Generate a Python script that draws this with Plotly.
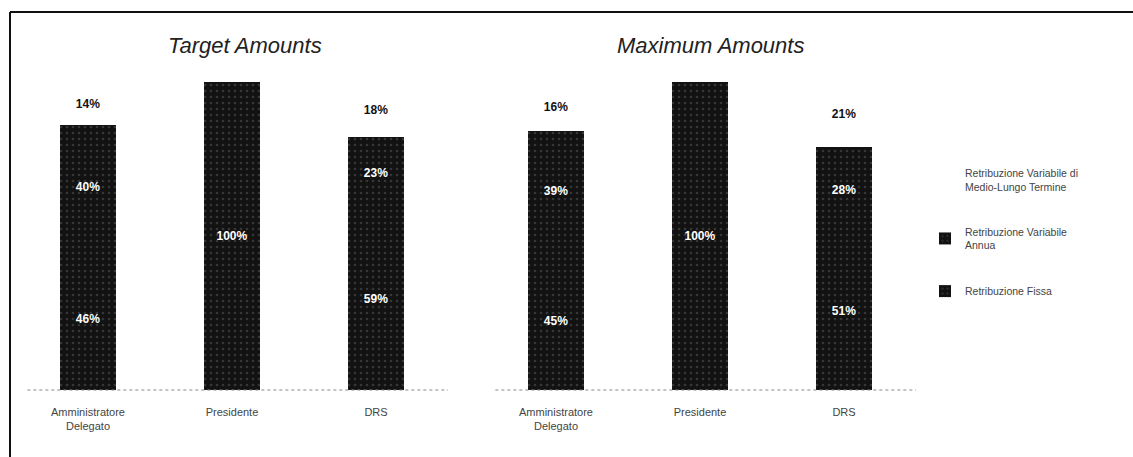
import plotly.graph_objects as go
from plotly.subplots import make_subplots

categories = ["Amministratore<br>Delegato", "Presidente", "DRS"]
panel_titles = ["Target Amounts", "Maximum Amounts"]
series_names = ["Retribuzione Fissa", "Retribuzione Variabile<br>Annua",
                "Retribuzione Variabile di<br>Medio-Lungo Termine"]
target_fissa = [46, 100, 59]
target_annua = [40, 0, 23]
target_mlt = [14, 0, 18]
max_fissa = [45, 100, 51]
max_annua = [39, 0, 28]
max_mlt = [16, 0, 21]

panels = [(target_fissa, target_annua, target_mlt), (max_fissa, max_annua, max_mlt)]

W, H = 1133, 457
fig = make_subplots(rows=1, cols=2)

def lab(v):
    return [f"<b>{x}%</b>" if x else "" for x in v]

dark = "#121212"
lblfont = "Liberation Sans, Arial"
for i, (fissa, annua, mlt) in enumerate(panels):
    col = i + 1
    show = i == 0
    fig.add_trace(go.Bar(x=categories, y=fissa, name=series_names[0], legendrank=3,
                         marker=dict(color=dark, line_width=0,
                                     pattern=dict(shape=".", fgcolor="#5a5a5a", bgcolor=dark, size=6, solidity=0.15)),
                         text=lab(fissa), textposition="inside", insidetextanchor="middle",
                         textfont=dict(color="white", size=12, family=lblfont),
                         showlegend=show, legendgroup="a"), row=1, col=col)
    fig.add_trace(go.Bar(x=categories, y=annua, name=series_names[1], legendrank=2,
                         marker=dict(color=dark, line_width=0,
                                     pattern=dict(shape=".", fgcolor="#5a5a5a", bgcolor=dark, size=6, solidity=0.15)),
                         text=lab(annua), textposition="inside", insidetextanchor="middle",
                         textfont=dict(color="white", size=12, family=lblfont),
                         showlegend=show, legendgroup="b"), row=1, col=col)
    fig.add_trace(go.Bar(x=categories, y=mlt, name=series_names[2], legendrank=1,
                         marker=dict(color="rgba(255,255,255,0)", line_width=0),
                         text=lab(mlt), textposition="inside", insidetextanchor="middle",
                         textfont=dict(color="#111", size=12, family=lblfont),
                         showlegend=show, legendgroup="c"), row=1, col=col)

fig.update_layout(barmode="stack", bargap=0.61)

px0, px1 = 82, 390
def py(p):
    return (px1 - p) / (px1 - px0)

fig.update_layout(
    width=W, height=H,
    margin=dict(l=0, r=0, t=px0, b=H - px1),
    paper_bgcolor="white", plot_bgcolor="white",
    font=dict(family="Liberation Sans, Arial", color="#333"),
    xaxis=dict(domain=[16 / W, 448 / W]),
    xaxis2=dict(domain=[484 / W, 916 / W]),
    legend=dict(x=925 / W, y=py(160), xanchor="left", yanchor="top",
                font=dict(size=10.5, color="#444"), tracegroupgap=28,
                itemwidth=30, bgcolor="rgba(0,0,0,0)"),
    uniformtext=dict(minsize=10, mode="show"),
)
for ax in ["xaxis", "xaxis2"]:
    fig.layout[ax].update(showline=False, ticks="", showgrid=False, ticklabelstandoff=14,
                          tickfont=dict(size=11, color="#444"))
for ax in ["yaxis", "yaxis2"]:
    fig.layout[ax].update(range=[0, 100], visible=False, showgrid=False)

# dotted baselines
for d in ([16 / W, 448 / W], [484 / W, 916 / W]):
    fig.add_shape(type="line", xref="paper", yref="paper", x0=d[0] + 0.01, x1=d[1], y0=0, y1=0,
                  line=dict(color="#888", width=1, dash="dot"))

# titles
for t, cx in zip(panel_titles, [245, 710]):
    fig.add_annotation(text=f"<i>{t}</i>", x=cx / W, y=py(45), xref="paper", yref="paper",
                       xanchor="center", yanchor="middle",
                       showarrow=False, font=dict(size=22, color="#222", family="Liberation Sans, Arial"))

# frame
fig.add_shape(type="line", xref="paper", yref="paper", x0=10 / W, x1=10 / W, y0=py(470), y1=py(12),
              line=dict(color="#111", width=2))
fig.add_shape(type="line", xref="paper", yref="paper", x0=10 / W, x1=1.02, y0=py(12), y1=py(12),
              line=dict(color="#111", width=2))

fig.write_html("out.html", config={"displayModeBar": False},
               post_script="document.body.style.margin='0';")
